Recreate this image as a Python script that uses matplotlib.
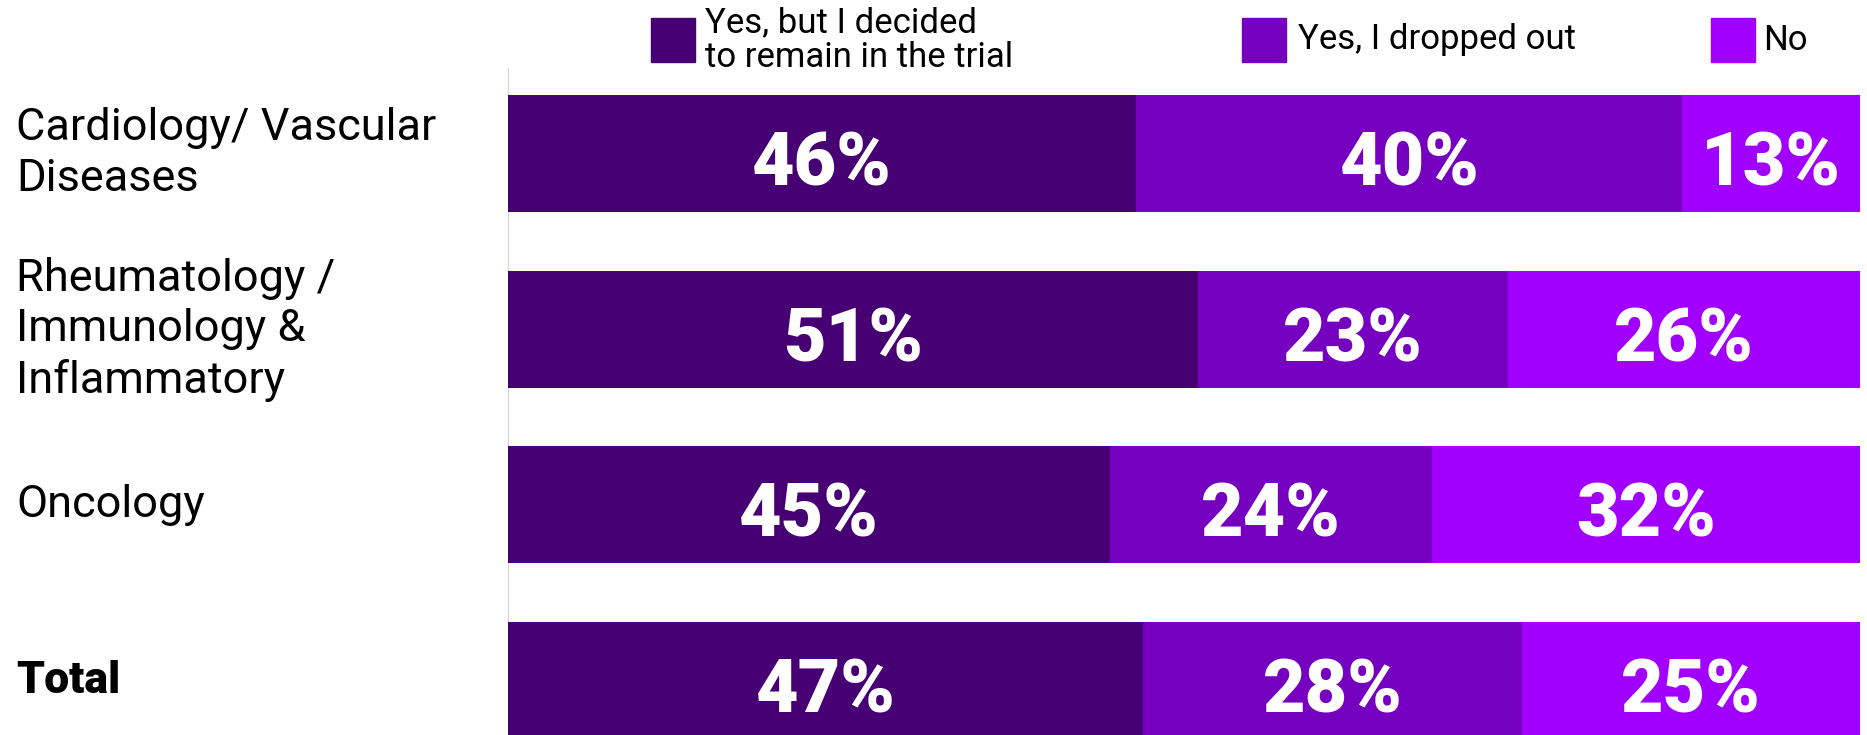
import matplotlib
matplotlib.use("Agg")
import matplotlib.pyplot as plt
from matplotlib.patches import Rectangle
import numpy as np

# Share of respondents per therapy area (rows) and answer (columns)
categories = ["Cardiology/ Vascular\nDiseases",
              "Rheumatology /\nImmunology &\nInflammatory",
              "Oncology",
              "Total"]
series_names = ["Yes, but I decided\nto remain in the trial",
                "Yes, I dropped out",
                "No"]
remained = [46, 51, 45, 47]
dropped = [40, 23, 24, 28]
no_answer = [13, 26, 32, 25]

colors = ["#460073", "#7500C0", "#A100FF"]

W, H, DPI = 1867, 735, 100
fig = plt.figure(figsize=(W / DPI, H / DPI), dpi=DPI)


def px(x, y):
    """pixel (from top-left) -> figure fraction"""
    return x / W, 1 - y / H


# axes box in pixels
ax_left, ax_right, ax_top, ax_bottom = 508, 1860, 68, 735
ax = fig.add_axes([ax_left / W, 1 - ax_bottom / H,
                   (ax_right - ax_left) / W, (ax_bottom - ax_top) / H])

data = np.array([remained, dropped, no_answer], dtype=float)
totals = data.sum(axis=0)
shares = data / totals * 100

y = np.arange(len(categories))
left = np.zeros(len(categories))
for i, (vals, col) in enumerate(zip(shares, colors)):
    ax.barh(y, vals, left=left, height=0.667, color=col, edgecolor="none")
    for yi, (l, v, lab) in enumerate(zip(left, vals, data[i])):
        ax.text(l + v / 2, yi + 0.065, f"{lab:.0f}%", ha="center", va="center",
                color="white", fontsize=53, fontweight="black",
                family="Roboto")
    left += vals

ax.set_xlim(0, 100)
ax.set_ylim(3.31, -0.487)
ax.axis("off")
ax.axvline(0, color="#d4d4d4", lw=1.5, zorder=0)

# category labels, left aligned in the margin
for yi, cat in enumerate(categories):
    yy = ax.transData.transform((0, yi))[1] / H
    bold = cat == "Total"
    fig.text(16 / W, yy, cat, ha="left", va="center",
             fontsize=32 if bold else 32.5,
             fontweight="black" if bold else "normal",
             family="Roboto", linespacing=1.25)

# legend along the top
legend_items = [(651, 705), (1242, 1298), (1711, 1763)]
for (sx, tx), name, col in zip(legend_items, series_names, colors):
    x0, y0 = px(sx, 62)
    fig.add_artist(Rectangle((x0, y0), 44 / W, 44 / H, color=col,
                             transform=fig.transFigure))
    fig.text(tx / W, 1 - 40 / H, name, ha="left", va="center",
             fontsize=25, family="Roboto", linespacing=1.1)

fig.savefig("out.png", dpi=DPI)
